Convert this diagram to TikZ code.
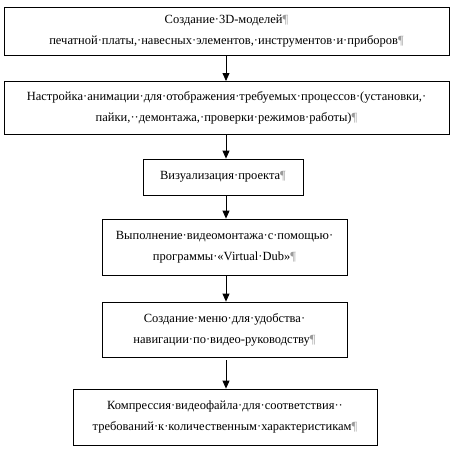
\documentclass[tikz,border=0pt]{standalone}
\usepackage{fontspec}
\setmainfont{Liberation Serif}
\usetikzlibrary{arrows.meta, positioning}
\definecolor{markgray}{HTML}{9a9a9a}
\newcommand{\pil}{\textcolor{markgray}{¶}}

\begin{document}
\begin{tikzpicture}[x=1pt, y=-1pt,
    stepbox/.style={draw, line width=0.8pt, align=center, inner sep=0pt,
      font=\fontsize{12.5}{21}\selectfont},
    flow/.style={-{Triangle[width=7pt, length=8pt]}, line width=0.8pt}]
    \useasboundingbox (0,0) rectangle (453,453);

    % --- boxes, top to bottom ---
    \node[stepbox, minimum width=445pt, minimum height=48pt] (models) at (226.5, 31)
      {Создание·3D-моделей\pil\\
       печатной·платы,·навесных·элементов,·инструментов·и·приборов\pil};
    \node[stepbox, minimum width=445pt, minimum height=53pt] (anim) at (226.5, 107.5)
      {Настройка·анимации·для·отображения·требуемых·процессов·(установки,·\\
       пайки,··демонтажа,·проверки·режимов·работы)\pil};
    \node[stepbox, minimum width=160pt, minimum height=36pt] (visual) at (223, 177)
      {Визуализация·проекта\pil};
    \node[stepbox, minimum width=245pt, minimum height=56pt] (montage) at (224.5, 247)
      {Выполнение·видеомонтажа·с·помощью·\\
       программы·«Virtual·Dub»\pil};
    \node[stepbox, minimum width=245pt, minimum height=55pt] (menu) at (224.5, 329.5)
      {Создание·меню·для·удобства·\\
       навигации·по·видео-руководству\pil};
    \node[stepbox, minimum width=304pt, minimum height=56pt] (compress) at (225, 417)
      {Компрессия·видеофайла·для·соответствия··\\
       требований·к·количественным·характеристикам\pil};

    % --- arrows ---
    \draw[flow] (226, 55) -- (226, 81);
    \draw[flow] (226, 134) -- (visual.north -| 226, 0);
    \draw[flow] (visual.south -| 226, 0) -- (montage.north -| 226, 0);
    \draw[flow] (montage.south -| 226, 0) -- (menu.north -| 226, 0);
    \draw[flow] (226, 360) -- (compress.north -| 226, 0);
\end{tikzpicture}
\end{document}
